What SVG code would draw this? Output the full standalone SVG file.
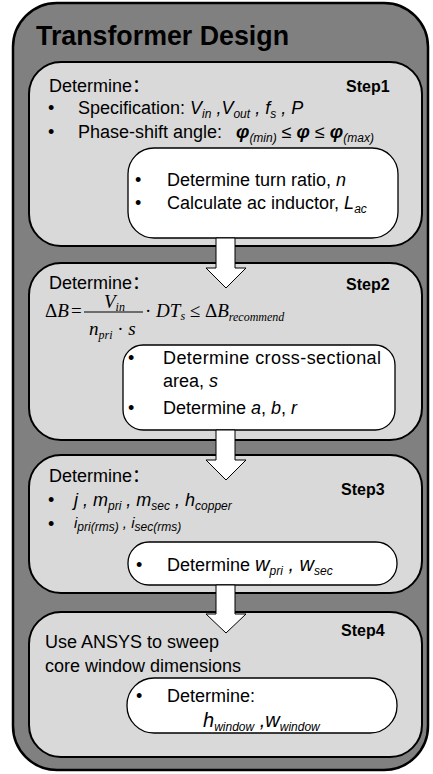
<svg xmlns="http://www.w3.org/2000/svg" width="433" height="774" viewBox="0 0 433 774">
<style>
text{font-family:"Liberation Sans","Noto Sans CJK SC",sans-serif;font-size:18px;fill:#000}
.t{font-size:28px;font-weight:bold}
.st{font-size:16px;font-weight:bold}
.i{font-style:italic}
.phi{font-style:italic;font-weight:bold;font-size:19px}
.sb{font-size:12px;font-style:italic}
.m{font-family:"Liberation Serif",serif;font-size:19px}
.mi{font-family:"Liberation Serif",serif;font-size:19px;font-style:italic}
.ms{font-family:"Liberation Serif",serif;font-size:12px;font-style:italic}
.outer{fill:#808080;stroke:#000;stroke-width:2.5}
.step{fill:#d9d9d9;stroke:#000;stroke-width:2}
.inner{fill:#fff;stroke:#000;stroke-width:1.3}
.arr{fill:#fff;stroke:#000;stroke-width:1}
</style>
<g id="frame">
<rect class="outer" x="13" y="3" width="415" height="767" rx="44"/>
<text class="t" x="36" y="45" textLength="253" lengthAdjust="spacingAndGlyphs">Transformer Design</text>
</g>
<g id="step1">
<rect class="step" x="29" y="62" width="393" height="184" rx="32"/>
<text x="49" y="92">Determine：</text>
<text class="st" x="346" y="92">Step1</text>
<text x="48" y="114">•</text>
<text x="78" y="114">Specification: <tspan class="i">V</tspan><tspan class="sb" dy="4">in</tspan><tspan class="i" dy="-4"> ,V</tspan><tspan class="sb" dy="4">out</tspan><tspan class="i" dy="-4"> , f</tspan><tspan class="sb" dy="4">s</tspan><tspan class="i" dy="-4"> , P</tspan></text>
<text x="48" y="138">•</text>
<text x="78" y="138">Phase-shift angle:</text>
<text x="236" y="138"><tspan class="phi">φ</tspan><tspan class="sb" dy="4">(min)</tspan><tspan dy="-4"> ≤ </tspan><tspan class="phi">φ</tspan><tspan> ≤ </tspan><tspan class="phi">φ</tspan><tspan class="sb" dy="4">(max)</tspan></text>
</g>
<g id="step1-inner">
<rect class="inner" x="128" y="148" width="270" height="90" rx="26"/>
<text x="135" y="186">•</text>
<text x="167" y="186">Determine turn ratio, <tspan class="i">n</tspan></text>
<text x="135" y="209">•</text>
<text x="167" y="209">Calculate ac inductor, <tspan class="i">L</tspan><tspan class="sb" dy="4">ac</tspan></text>
</g>
<g id="step2">
<rect class="step" x="29" y="263" width="393" height="177" rx="32"/>
<text x="49" y="289">Determine：</text>
<text class="st" x="346" y="290">Step2</text>
<text x="45" y="317"><tspan class="m">Δ</tspan><tspan class="mi">B</tspan></text>
<text class="m" x="71" y="317">=</text>
<text x="104" y="308"><tspan class="mi">V</tspan><tspan class="ms" dy="3">in</tspan></text>
<line x1="84" y1="312" x2="143" y2="312" stroke="#000" stroke-width="1"/>
<text x="89" y="335"><tspan class="mi">n</tspan><tspan class="ms" dy="4">pri</tspan><tspan class="m" dy="-4"> · </tspan><tspan class="mi">s</tspan></text>
<text x="145" y="317"><tspan class="m">· </tspan><tspan class="mi">DT</tspan><tspan class="ms" dy="3">s</tspan><tspan class="m" dy="-3"> ≤ Δ</tspan><tspan class="mi">B</tspan><tspan class="ms" dy="4">recommend</tspan></text>
</g>
<g id="step2-inner">
<rect class="inner" x="123" y="345" width="272" height="85" rx="20"/>
<text x="128" y="364">•</text>
<text x="163" y="364" textLength="218" lengthAdjust="spacing">Determine cross-sectional</text>
<text x="163" y="387">area, <tspan class="i">s</tspan></text>
<text x="128" y="414">•</text>
<text x="163" y="414">Determine <tspan class="i">a</tspan>, <tspan class="i">b</tspan>, <tspan class="i">r</tspan></text>
</g>
<g id="step3">
<rect class="step" x="29" y="455" width="393" height="138" rx="32"/>
<text x="49" y="482">Determine：</text>
<text class="st" x="341" y="495">Step3</text>
<text x="48" y="506">•</text>
<text x="74" y="506"><tspan class="i">j</tspan><tspan class="i"> , m</tspan><tspan class="sb" dy="4">pri</tspan><tspan class="i" dy="-4"> , m</tspan><tspan class="sb" dy="4">sec</tspan><tspan class="i" dy="-4"> , h</tspan><tspan class="sb" dy="4">copper</tspan></text>
<text x="48" y="530">•</text>
<text x="74" y="528"><tspan class="i" font-size="15">i</tspan><tspan class="sb" dy="3">pri(rms)</tspan><tspan class="i" font-size="15" dy="-3"> , i</tspan><tspan class="sb" dy="3">sec(rms)</tspan></text>
</g>
<g id="step3-inner">
<rect class="inner" x="128" y="542" width="269" height="43" rx="21"/>
<text x="136" y="571">•</text>
<text x="167" y="571">Determine  <tspan class="i" font-size="20">w</tspan><tspan class="sb" dy="4">pri</tspan><tspan class="i" font-size="20" dy="-4"> , w</tspan><tspan class="sb" dy="4">sec</tspan></text>
</g>
<g id="step4">
<rect class="step" x="29" y="612" width="393" height="145" rx="32"/>
<text class="st" x="341" y="636">Step4</text>
<text x="45" y="648">Use ANSYS to sweep</text>
<text x="45" y="672">core window dimensions</text>
</g>
<g id="step4-inner">
<rect class="inner" x="127" y="678" width="270" height="55" rx="27"/>
<text x="136" y="702">•</text>
<text x="167" y="702">Determine:</text>
<text x="203" y="727"><tspan class="i" font-size="20">h</tspan><tspan class="sb" dy="4">window</tspan><tspan class="i" font-size="20" dy="-4"> ,w</tspan><tspan class="sb" dy="4">window</tspan></text>
</g>
<g id="connectors">
<polygon class="arr" points="216,238 235,238 235,268 246,268 226,288 206,268 216,268"/>
<polygon class="arr" points="216,430 235,430 235,460 246,460 226,480 206,460 216,460"/>
<polygon class="arr" points="216,585 235,585 235,614 246,614 226,633 206,614 216,614"/>
</g>
</svg>
